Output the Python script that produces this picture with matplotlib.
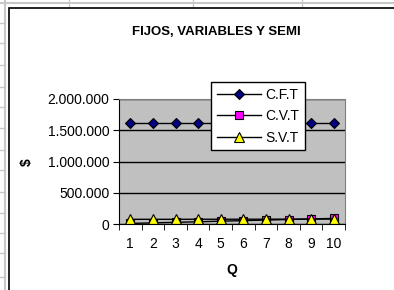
import matplotlib.pyplot as plt
from matplotlib.lines import Line2D
from matplotlib.patches import Rectangle
from matplotlib.ticker import FuncFormatter, FixedLocator

plt.rcParams['font.family'] = ['Liberation Sans', 'DejaVu Sans']

q = [1, 2, 3, 4, 5, 6, 7, 8, 9, 10]
cft = [1620000] * 10
cvt = [9000, 18000, 27000, 36000, 45000, 54000, 63000, 72000, 81000, 90000]
svt = [75000, 75000, 75000, 76000, 76000, 77000, 77000, 78000, 78000, 79000]
y_ticks = [0, 500000, 1000000, 1500000, 2000000]

W, H = 394, 290
fig = plt.figure(figsize=(W / 100, H / 100), dpi=100)
fig.patch.set_facecolor('white')

# spreadsheet grid behind the chart
grid_c = '#c8c8c8'
fig.add_artist(Line2D([5 / W, 5 / W], [0, 1], color=grid_c, lw=1.5, zorder=-3))
for yy in [23, 43, 65, 87, 107, 128, 150, 170, 192, 213, 233, 253, 277]:
    fig.add_artist(Line2D([0, 5 / W], [1 - yy / H, 1 - yy / H], color=grid_c, lw=1, zorder=-3))
fig.add_artist(Line2D([0, 1], [1 - 3 / H, 1 - 3 / H], color=grid_c, lw=1.5, zorder=-3))
for xx in [69, 193, 302]:
    fig.add_artist(Line2D([xx / W, xx / W], [1 - 7 / H, 1], color=grid_c, lw=1, zorder=-3))

# chart area border
fig.add_artist(Rectangle((9 / W, -0.1), 1.2, 1 - 8 / H + 0.1, transform=fig.transFigure,
                         facecolor='white', edgecolor='black', lw=1.2, zorder=-2))

ax = fig.add_axes([119 / W, 1 - 224 / H, 226 / W, 125 / H])
ax.set_facecolor('#c0c0c0')

ax.plot(q, cft, color='black', lw=1, marker='D', ms=5.5, mfc='#000080', mec='black',
        mew=0.8, label='C.F.T')
ax.plot(q, cvt, color='black', lw=1, marker='s', ms=5.5, mfc='#ff00ff', mec='black',
        mew=0.8, label='C.V.T')
ax.plot(q, svt, color='black', lw=1, marker='^', ms=6.5, mfc='#ffff00', mec='black',
        mew=0.8, label='S.V.T')

ax.set_xlim(0.5, 10.5)
ax.set_ylim(0, 2000000)
ax.set_yticks(y_ticks)
ax.yaxis.set_major_formatter(FuncFormatter(lambda v, p: f'{int(v):,}'.replace(',', '.')))
ax.grid(axis='y', color='black', lw=1)
ax.set_axisbelow(True)

ax.set_xticks(q)
ax.xaxis.set_minor_locator(FixedLocator([i + 0.5 for i in range(0, 11)]))
ax.tick_params(axis='x', which='major', length=0, pad=9, labelsize=10)
ax.tick_params(axis='x', which='minor', length=4, direction='out')
ax.tick_params(axis='y', length=4, direction='out', labelsize=10, pad=3)

for s in ['left', 'bottom']:
    ax.spines[s].set_color('black')
for s in ['top', 'right']:
    ax.spines[s].set_color('#808080')

fig.text(216 / W, 1 - 32 / H, 'FIJOS, VARIABLES Y SEMI', ha='center', va='center',
         fontsize=9.5, fontweight='bold')
fig.text(27 / W, 1 - 162 / H, '$', ha='center', va='center', rotation=90,
         fontsize=10, fontweight='bold')
fig.text(232 / W, 1 - 270 / H, 'Q', ha='center', va='center',
         fontsize=10, fontweight='bold')

leg = ax.legend(loc='upper left', bbox_to_anchor=(211 / W, 1 - 82 / H),
                bbox_transform=fig.transFigure, fontsize=10, frameon=True,
                fancybox=False, edgecolor='black', framealpha=1,
                handlelength=3.2, handletextpad=0.3, borderpad=0.4,
                labelspacing=0.55, borderaxespad=0)
leg.get_frame().set_linewidth(1)

fig.savefig('out.png', dpi=100)
